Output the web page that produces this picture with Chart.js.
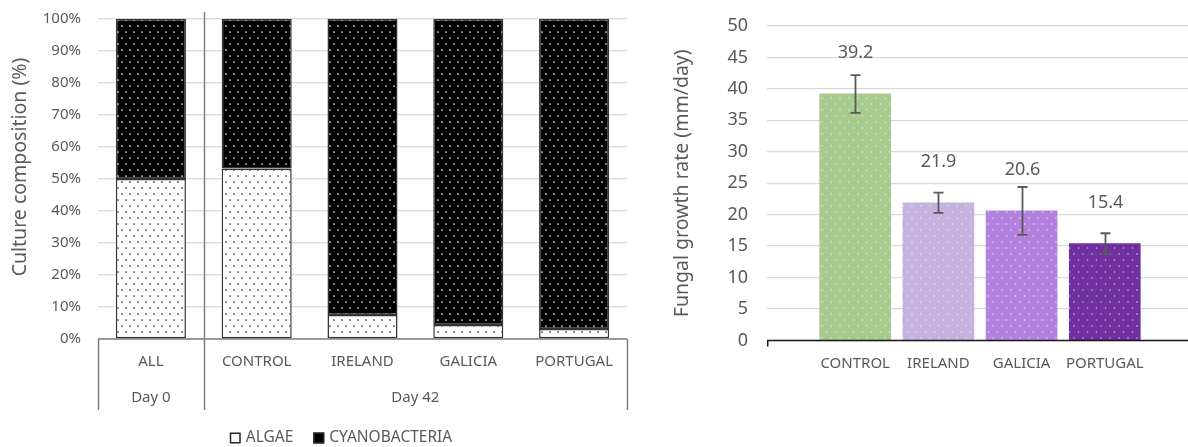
<!DOCTYPE html>
<html>
<head>
<meta charset="utf-8">
<script src="https://cdn.jsdelivr.net/npm/chart.js@4/dist/chart.umd.min.js"></script>
<style>
  html, body { margin: 0; padding: 0; background: #fff; width: 1188px; height: 447px; overflow: hidden; }
  #composition { position: absolute; left: 0; top: 0; }
  #growth { position: absolute; left: 640px; top: 0; }
</style>
</head>
<body>
<canvas id="composition" width="640" height="447"></canvas>
<canvas id="growth" width="548" height="447"></canvas>
<script>
// ---- Culture composition (stacked 100 %) ----
const compositionCategories = ['ALL', 'CONTROL', 'IRELAND', 'GALICIA', 'PORTUGAL'];
const compositionGroups = ['Day 0', 'Day 42'];
const compositionGroupSizes = [1, 4];
const algaePct = [50, 53.3, 7.5, 4.4, 3.1];
const cyanobacteriaPct = [50, 46.7, 92.5, 95.6, 96.9];

// ---- Fungal growth rate ----
const growthCategories = ['CONTROL', 'IRELAND', 'GALICIA', 'PORTUGAL'];
const growthRate = [39.2, 21.9, 20.6, 15.4];
const growthError = [3.0, 1.6, 3.8, 1.65];

const TEXT = '#595959';
const FONT = '"Noto Sans", sans-serif';

function dotPattern(ctx, bg, dot, w, h, pts, r) {
  const c = document.createElement('canvas');
  c.width = w; c.height = h;
  const g = c.getContext('2d');
  g.fillStyle = bg; g.fillRect(0, 0, w, h);
  g.fillStyle = dot;
  pts.forEach(([x, y]) => { g.beginPath(); g.arc(x, y, r, 0, Math.PI * 2); g.fill(); });
  return ctx.createPattern(c, 'repeat');
}

const compCanvas = document.getElementById('composition');
const compCtx = compCanvas.getContext('2d');
const algaeFill = dotPattern(compCtx, '#ffffff', '#1a1a1a', 8, 12, [[2, 2], [6, 8]], 0.85);
const cyanoFill = dotPattern(compCtx, '#000000', '#ffffff', 8, 12, [[2, 2], [6, 8]], 0.85);

// category + group boxes under the stacked bars, and the rotated axis title
const multiLevelAxis = {
  id: 'multiLevelAxis',
  beforeDatasetsDraw(chart) {
    const { ctx, chartArea: a, scales: { x } } = chart;
    const boxBottom = 410;
    ctx.save();
    ctx.strokeStyle = '#7f7f7f';
    ctx.lineWidth = 1.5;
    ctx.beginPath();
    ctx.moveTo(a.left, a.bottom); ctx.lineTo(a.right, a.bottom);
    ctx.stroke();
    let start = 0;
    const edges = [a.left];
    compositionGroupSizes.forEach((n, gi) => {
      const end = start + n;
      const right = end >= compositionCategories.length ? a.right
        : (x.getPixelForValue(end - 1) + x.getPixelForValue(end)) / 2;
      edges.push(right);
      const left = edges[gi];
      ctx.fillStyle = TEXT;
      ctx.font = '15px ' + FONT;
      ctx.textAlign = 'center';
      ctx.textBaseline = 'middle';
      ctx.fillText(compositionGroups[gi], (left + right) / 2, 398);
      start = end;
    });
    edges.forEach((ex, i) => {
      const inner = i > 0 && i < edges.length - 1;
      ctx.beginPath();
      ctx.moveTo(Math.round(ex) + 0.5, inner ? 12 : a.bottom);
      ctx.lineTo(Math.round(ex) + 0.5, boxBottom);
      ctx.stroke();
    });
    // y-axis title
    ctx.translate(20, 167);
    ctx.rotate(-Math.PI / 2);
    ctx.fillStyle = TEXT;
    ctx.font = '19.5px ' + FONT;
    ctx.fillText('Culture composition (%)', 0, 0);
    ctx.restore();
  }
};

const compositionLegend = {
  id: 'compositionLegend',
  afterDraw(chart) {
    const { ctx } = chart;
    const items = [
      { text: 'ALGAE', fill: '#ffffff' },
      { text: 'CYANOBACTERIA', fill: '#000000' }
    ];
    ctx.save();
    ctx.font = '15.5px ' + FONT;
    const box = 11, gapBox = 5, gapItem = 20;
    const total = items.reduce((s, it) => s + box + gapBox + ctx.measureText(it.text).width, 0) + gapItem;
    let cx = 341 - total / 2;
    const cy = 438;
    items.forEach(it => {
      ctx.fillStyle = it.fill;
      ctx.fillRect(cx, cy - box / 2, box, box);
      ctx.strokeStyle = '#262626';
      ctx.lineWidth = 1.5;
      ctx.strokeRect(cx + 0.75, cy - box / 2 + 0.75, box - 1.5, box - 1.5);
      ctx.fillStyle = TEXT;
      ctx.textAlign = 'left';
      ctx.textBaseline = 'middle';
      ctx.fillText(it.text, cx + box + gapBox, cy);
      cx += box + gapBox + ctx.measureText(it.text).width + gapItem;
    });
    ctx.restore();
  }
};

new Chart(compCanvas, {
  type: 'bar',
  data: {
    labels: compositionCategories,
    datasets: [
      { label: 'ALGAE', data: algaePct, backgroundColor: algaeFill, borderColor: '#333333',
        borderWidth: 1.5, borderSkipped: false, barPercentage: 0.662, categoryPercentage: 1 },
      { label: 'CYANOBACTERIA', data: cyanobacteriaPct, backgroundColor: cyanoFill, borderColor: '#333333',
        borderWidth: 1.5, borderSkipped: false, barPercentage: 0.662, categoryPercentage: 1 }
    ]
  },
  options: {
    responsive: false,
    animation: false,
    layout: { padding: { top: 19, right: 13, left: 0, bottom: 0 } },
    plugins: { legend: { display: false }, tooltip: { enabled: false } },
    scales: {
      x: {
        stacked: true,
        grid: { display: false, drawTicks: true, tickLength: 14 },
        border: { display: false },
        ticks: { color: TEXT, font: { family: FONT, size: 15 }, padding: 0, maxRotation: 0, autoSkip: false },
        afterFit: s => { s.height = 108; }
      },
      y: {
        stacked: true,
        min: 0, max: 100,
        ticks: { stepSize: 10, callback: v => v + '%', color: TEXT, font: { family: FONT, size: 15 }, padding: 0 },
        grid: { color: '#D9D9D9', lineWidth: 1.3, drawTicks: true, tickLength: 17, tickColor: 'rgba(0,0,0,0)' },
        border: { display: false },
        afterFit: s => { s.width = 98; }
      }
    }
  },
  plugins: [multiLevelAxis, compositionLegend]
});

// ---- Fungal growth rate chart ----
const growthCanvas = document.getElementById('growth');
const growthCtx = growthCanvas.getContext('2d');
const growthColors = ['#A6CB8D', '#C5B2DF', '#B382DE', '#7031A0'];
const growthFills = growthColors.map(c =>
  dotPattern(growthCtx, c, 'rgba(255,255,255,0.65)', 9, 12, [[2, 2], [6.5, 8]], 0.8));

const errorBarsAndLabels = {
  id: 'errorBarsAndLabels',
  afterDatasetsDraw(chart) {
    const { ctx, scales: { x, y } } = chart;
    ctx.save();
    ctx.strokeStyle = '#595959';
    ctx.lineWidth = 1.8;
    growthRate.forEach((v, i) => {
      const px = Math.round(x.getPixelForValue(i)) + 0.5;
      const top = y.getPixelForValue(v + growthError[i]);
      const bot = y.getPixelForValue(v - growthError[i]);
      ctx.beginPath();
      ctx.moveTo(px, top); ctx.lineTo(px, bot);
      ctx.moveTo(px - 5, top); ctx.lineTo(px + 5, top);
      ctx.moveTo(px - 5, bot); ctx.lineTo(px + 5, bot);
      ctx.stroke();
      ctx.fillStyle = TEXT;
      ctx.font = '18px ' + FONT;
      ctx.textAlign = 'center';
      ctx.textBaseline = 'middle';
      ctx.fillText(v.toFixed(1), px, y.getPixelForValue(v) - 41);
    });
    // category axis line with its starting tick
    const a = chart.chartArea;
    ctx.strokeStyle = '#1a1a1a';
    ctx.lineWidth = 1.5;
    ctx.beginPath();
    ctx.moveTo(a.left + 0.75, a.bottom + 6);
    ctx.lineTo(a.left + 0.75, a.bottom);
    ctx.lineTo(a.right, a.bottom);
    ctx.stroke();
    ctx.restore();
  }
};

new Chart(growthCanvas, {
  type: 'bar',
  data: {
    datasets: [{
      label: 'Fungal growth rate',
      data: growthRate.map((v, i) => ({ x: i, y: v })),
      backgroundColor: growthFills,
      borderWidth: 0,
      barThickness: 71
    }]
  },
  options: {
    responsive: false,
    animation: false,
    layout: { padding: { top: 26, left: 29, right: 0, bottom: 0 } },
    plugins: { legend: { display: false }, tooltip: { enabled: false } },
    scales: {
      x: {
        type: 'linear',
        offset: false,
        min: -1.06, max: 4.0,
        grid: { display: false, drawTicks: true, tickLength: 14 },
        border: { display: false },
        afterBuildTicks: s => { s.ticks = growthCategories.map((_, i) => ({ value: i })); },
        ticks: { callback: v => growthCategories[v] ?? '', autoSkip: false, maxRotation: 0,
                 color: TEXT, font: { family: FONT, size: 15 }, padding: 0 },
        afterFit: s => { s.height = 106.5; }
      },
      y: {
        min: 0, max: 50,
        ticks: { stepSize: 5, color: TEXT, font: { family: FONT, size: 18 }, padding: 0 },
        grid: { color: '#D9D9D9', lineWidth: 1.3, drawTicks: true, tickLength: 19, tickColor: 'rgba(0,0,0,0)' },
        border: { display: false },
        title: { display: true, text: 'Fungal growth rate (mm/day)', color: TEXT,
                 font: { family: FONT, size: 19.5 }, padding: { top: 2, bottom: 0 } },
        afterFit: s => { s.width = 98; }
      }
    }
  },
  plugins: [errorBarsAndLabels]
});
</script>
</body>
</html>
